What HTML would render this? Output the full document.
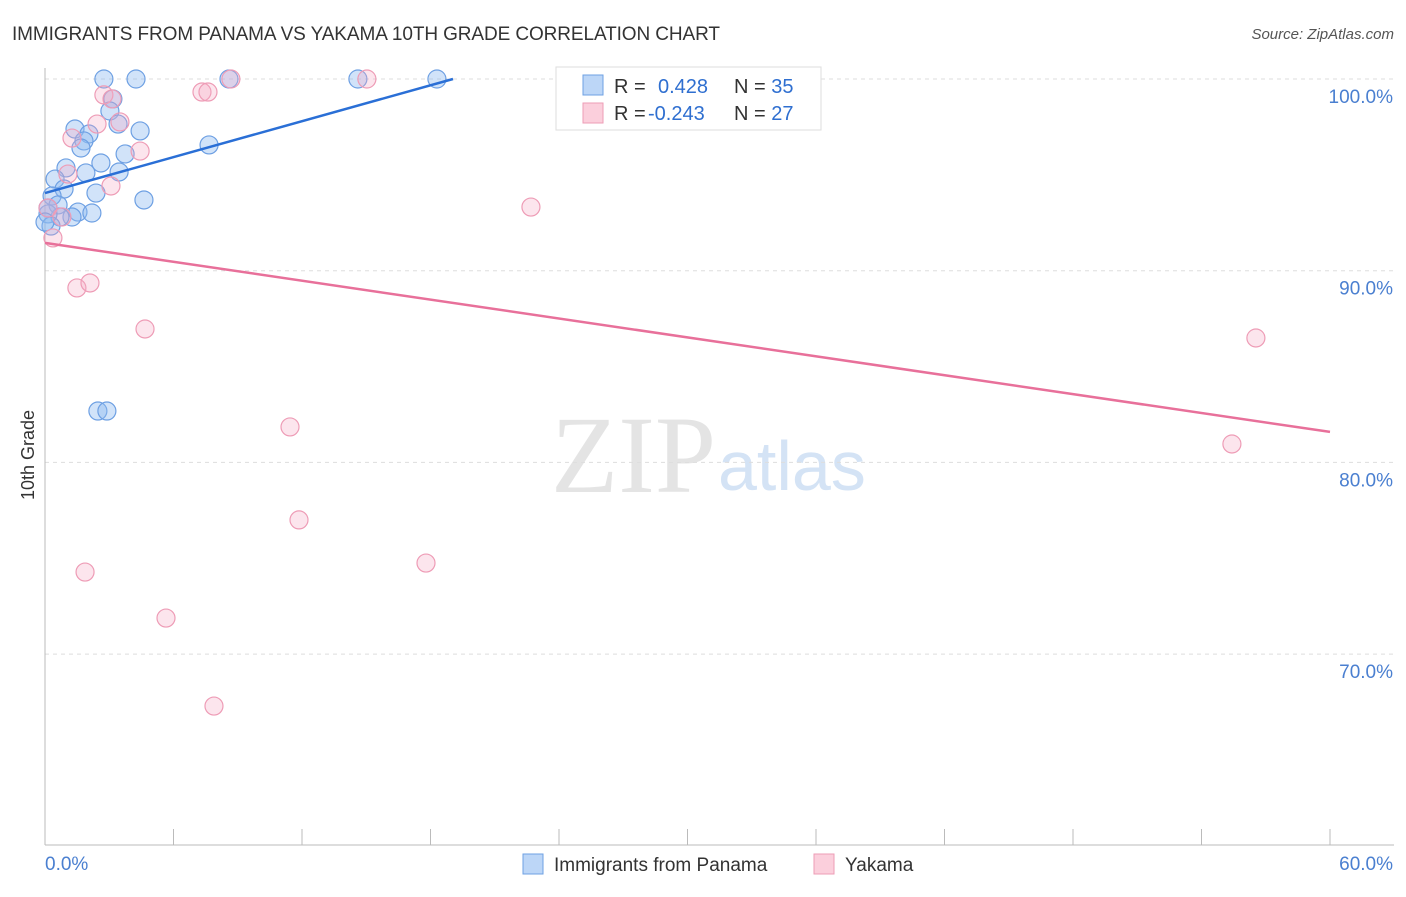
<!DOCTYPE html>
<html><head><meta charset="utf-8"><style>
body{margin:0;background:#fff;font-family:"Liberation Sans",sans-serif;}
</style></head><body>
<svg id="c" width="1406" height="892" xmlns="http://www.w3.org/2000/svg">
<text x="12" y="40" font-size="19" fill="#333" textLength="708">IMMIGRANTS FROM PANAMA VS YAKAMA 10TH GRADE CORRELATION CHART</text>
<text x="1394" y="39" font-size="15" fill="#555" text-anchor="end" font-style="italic">Source: ZipAtlas.com</text>
<text x="716" y="492" font-size="110" fill="#e4e4e4" text-anchor="end" font-family="Liberation Serif">ZIP</text>
<text x="718" y="490" font-size="70" fill="#d4e3f5">atlas</text>
<text transform="translate(34,455) rotate(-90)" font-size="18" fill="#333" text-anchor="middle">10th Grade</text>
<g id="grid"></g><g id="pts"></g><g id="lines"></g>
<g>
<rect x="556" y="67" width="265" height="63" fill="#fff" stroke="#ddd"/>
<rect x="583" y="75" width="20" height="20" fill="#bcd6f7" stroke="#6ea0e3"/>
<rect x="583" y="103" width="20" height="20" fill="#fbcfdc" stroke="#ee9cb6"/>
<text x="614" y="93" font-size="20" fill="#333">R = <tspan fill="#2f6fd0" x="658">0.428</tspan><tspan x="734">N = </tspan><tspan fill="#2f6fd0">35</tspan></text>
<text x="614" y="120" font-size="20" fill="#333">R = <tspan fill="#2f6fd0" x="648">-0.243</tspan><tspan x="734">N = </tspan><tspan fill="#2f6fd0">27</tspan></text>
</g>
<g>
<rect x="523" y="854" width="20" height="20" fill="#bcd6f7" stroke="#6ea0e3"/>
<text x="554" y="871" font-size="19" fill="#333">Immigrants from Panama</text>
<rect x="814" y="854" width="20" height="20" fill="#fbcfdc" stroke="#ee9cb6"/>
<text x="845" y="871" font-size="19" fill="#333">Yakama</text>
</g>
</svg>
<script>
const blueX=[2.75,4.25,8.59,14.61,18.3,3.17,3.03,1.40,4.44,2.05,1.82,1.68,7.66,3.74,2.61,0.98,1.91,3.46,0.47,0.89,2.38,0.33,4.62,0.61,1.54,2.19,1.26,0.70,0.14,0.28,2.47,2.89,0.14,3.41,0.0];
const blueY=[100,100,100,100,100,98.96,98.33,97.39,97.29,97.13,96.77,96.40,96.56,96.09,95.62,95.36,95.10,95.15,94.78,94.26,94.05,93.90,93.69,93.43,93.06,93.01,92.80,92.80,92.96,92.33,82.68,82.68,93.27,97.65,92.54];
const pinkX=[8.68,15.03,7.33,7.61,2.75,3.13,3.50,2.43,4.44,1.26,1.07,3.08,0.14,0.79,0.37,1.49,2.10,22.69,4.67,11.44,11.86,1.87,17.79,5.65,7.89,56.54,55.42];
const pinkY=[100,100,99.32,99.32,99.17,98.96,97.76,97.65,96.24,96.92,95.04,94.42,93.27,92.80,91.71,89.10,89.36,93.32,86.96,81.85,77.0,74.28,74.75,71.88,67.29,86.49,80.96];
const yTicks=[100,90,80,70];
const blueTrend=[[0,94.05],[19.05,100]];
const pinkTrend=[[0,91.45],[60,81.59]];
const X=v=>45+v/60*1285, Y=v=>79+(100-v)*19.17;
const NS="http://www.w3.org/2000/svg";
function mk(t,a,p){const e=document.createElementNS(NS,t);for(const k in a)e.setAttribute(k,a[k]);p.appendChild(e);return e;}
const g=document.getElementById('grid');
yTicks.forEach(v=>{
 const l=mk('line',{x1:45,x2:1394,y1:Y(v),y2:Y(v),stroke:'#ddd','stroke-dasharray':'4,4'},g);
 
 
 const t=mk('text',{x:1393,y:Y(v)+24,'font-size':19,fill:'#4a7fd0','text-anchor':'end'},g);
 t.textContent=v.toFixed(1)+'%';
 
 
});
const ax=mk('line',{x1:45,x2:45,y1:68,y2:845,stroke:'#bbb'},g);


const bx=mk('line',{x1:45,x2:1394,y1:845,y2:845,stroke:'#bbb'},g);


for(let i=0;i<=10;i++){const l=mk('line',{x1:X(i*6),x2:X(i*6),y1:829,y2:845,stroke:'#bbb'},g);
 
 }
[[0,'0.0%','start',45],[60,'60.0%','end',1393]].forEach(d=>{const t=mk('text',{x:d[3],y:870,'font-size':19,fill:'#4a7fd0','text-anchor':d[2]},g);t.textContent=d[1];
 
 });
const p=document.getElementById('pts');
blueX.forEach((x,i)=>{const c=mk('circle',{cx:X(x),cy:Y(blueY[i]),r:9,fill:'rgba(140,185,240,0.4)',stroke:'#6ea0e3','stroke-width':1.2},p);
 
 });
pinkX.forEach((x,i)=>{const c=mk('circle',{cx:X(x),cy:Y(pinkY[i]),r:9,fill:'rgba(245,170,195,0.3)',stroke:'#ee9cb6','stroke-width':1.2},p);
 
 });
const L=document.getElementById('lines');
const b=mk('line',{x1:X(blueTrend[0][0]),y1:Y(blueTrend[0][1]),x2:X(blueTrend[1][0]),y2:Y(blueTrend[1][1]),stroke:'#2a6fd6','stroke-width':2.5},L);


const k=mk('line',{x1:X(pinkTrend[0][0]),y1:Y(pinkTrend[0][1]),x2:X(pinkTrend[1][0]),y2:Y(pinkTrend[1][1]),stroke:'#e8709a','stroke-width':2.5},L);


</script>
</body></html>
